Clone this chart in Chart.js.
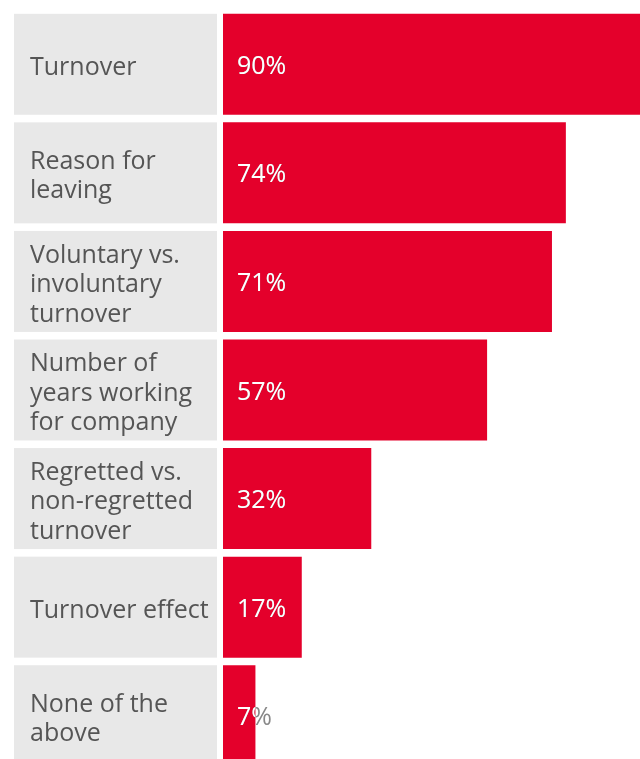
<!DOCTYPE html>
<html>
<head>
<meta charset="utf-8">
<script src="https://cdn.jsdelivr.net/npm/chart.js@4/dist/chart.umd.min.js"></script>
<style>
  html, body { margin: 0; padding: 0; background: #fff; overflow: hidden; }
  #wrap { width: 640px; height: 759px; overflow: hidden; }
</style>
</head>
<body>
<div id="wrap"><canvas id="chart" width="640" height="770"></canvas></div>
<script>
const categories = [
  ["Turnover"],
  ["Reason for", "leaving"],
  ["Voluntary vs.", "involuntary", "turnover"],
  ["Number of", "years working", "for company"],
  ["Regretted vs.", "non-regretted", "turnover"],
  ["Turnover effect"],
  ["None of the", "above"]
];
const shares = [90, 74, 71, 57, 32, 17, 7];

const RED = "#e4002b";
const BOX = "#e8e8e8";
const FONT = "'Open Sans', sans-serif";

// grey label boxes behind the category names, lined up with each bar
const labelBoxes = {
  id: "labelBoxes",
  beforeDatasetsDraw(chart) {
    const ctx = chart.ctx;
    const bars = chart.getDatasetMeta(0).data;
    ctx.save();
    bars.forEach((bar, i) => {
      const h = bar.height;
      const top = bar.y - h / 2;
      ctx.fillStyle = BOX;
      ctx.fillRect(14, top, 203, h);

      const lines = categories[i];
      const lh = 29.5;
      ctx.fillStyle = "#555";
      ctx.font = "25px " + FONT;
      ctx.textBaseline = "middle";
      ctx.textAlign = "left";
      const y0 = bar.y + 3.5 - (lines.length - 1) * lh / 2;
      lines.forEach((t, k) => ctx.fillText(t, 30, y0 + k * lh));
    });
    ctx.restore();
  }
};

// value labels: white on the bar, grey where the text runs past its end
const valueLabels = {
  id: "valueLabels",
  afterDatasetsDraw(chart) {
    const ctx = chart.ctx;
    const bars = chart.getDatasetMeta(0).data;
    ctx.save();
    ctx.font = "25px " + FONT;
    ctx.textBaseline = "middle";
    ctx.textAlign = "left";
    bars.forEach((bar, i) => {
      const txt = shares[i] + "%";
      const left = bar.base;
      const h = bar.height;
      const ty = bar.y + 2.5;
      ctx.fillStyle = "#888";
      ctx.fillText(txt, left + 14, ty);
      ctx.save();
      ctx.beginPath();
      ctx.rect(left, bar.y - h / 2, bar.x - left, h);
      ctx.clip();
      ctx.fillStyle = "#fff";
      ctx.fillText(txt, left + 14, ty);
      ctx.restore();
    });
    ctx.restore();
  }
};

new Chart(document.getElementById("chart"), {
  type: "bar",
  data: {
    labels: categories.map(c => c.join(" ")),
    datasets: [{
      data: shares,
      backgroundColor: RED,
      borderWidth: 0,
      barPercentage: 0.93,
      categoryPercentage: 1
    }]
  },
  options: {
    indexAxis: "y",
    responsive: false,
    animation: false,
    layout: { padding: { left: 223, top: 10, right: 0, bottom: 0 } },
    plugins: { legend: { display: false }, tooltip: { enabled: false } },
    scales: {
      x: { min: 0, max: 90, display: false },
      y: { display: false }
    }
  },
  plugins: [labelBoxes, valueLabels]
});
</script>
</body>
</html>
